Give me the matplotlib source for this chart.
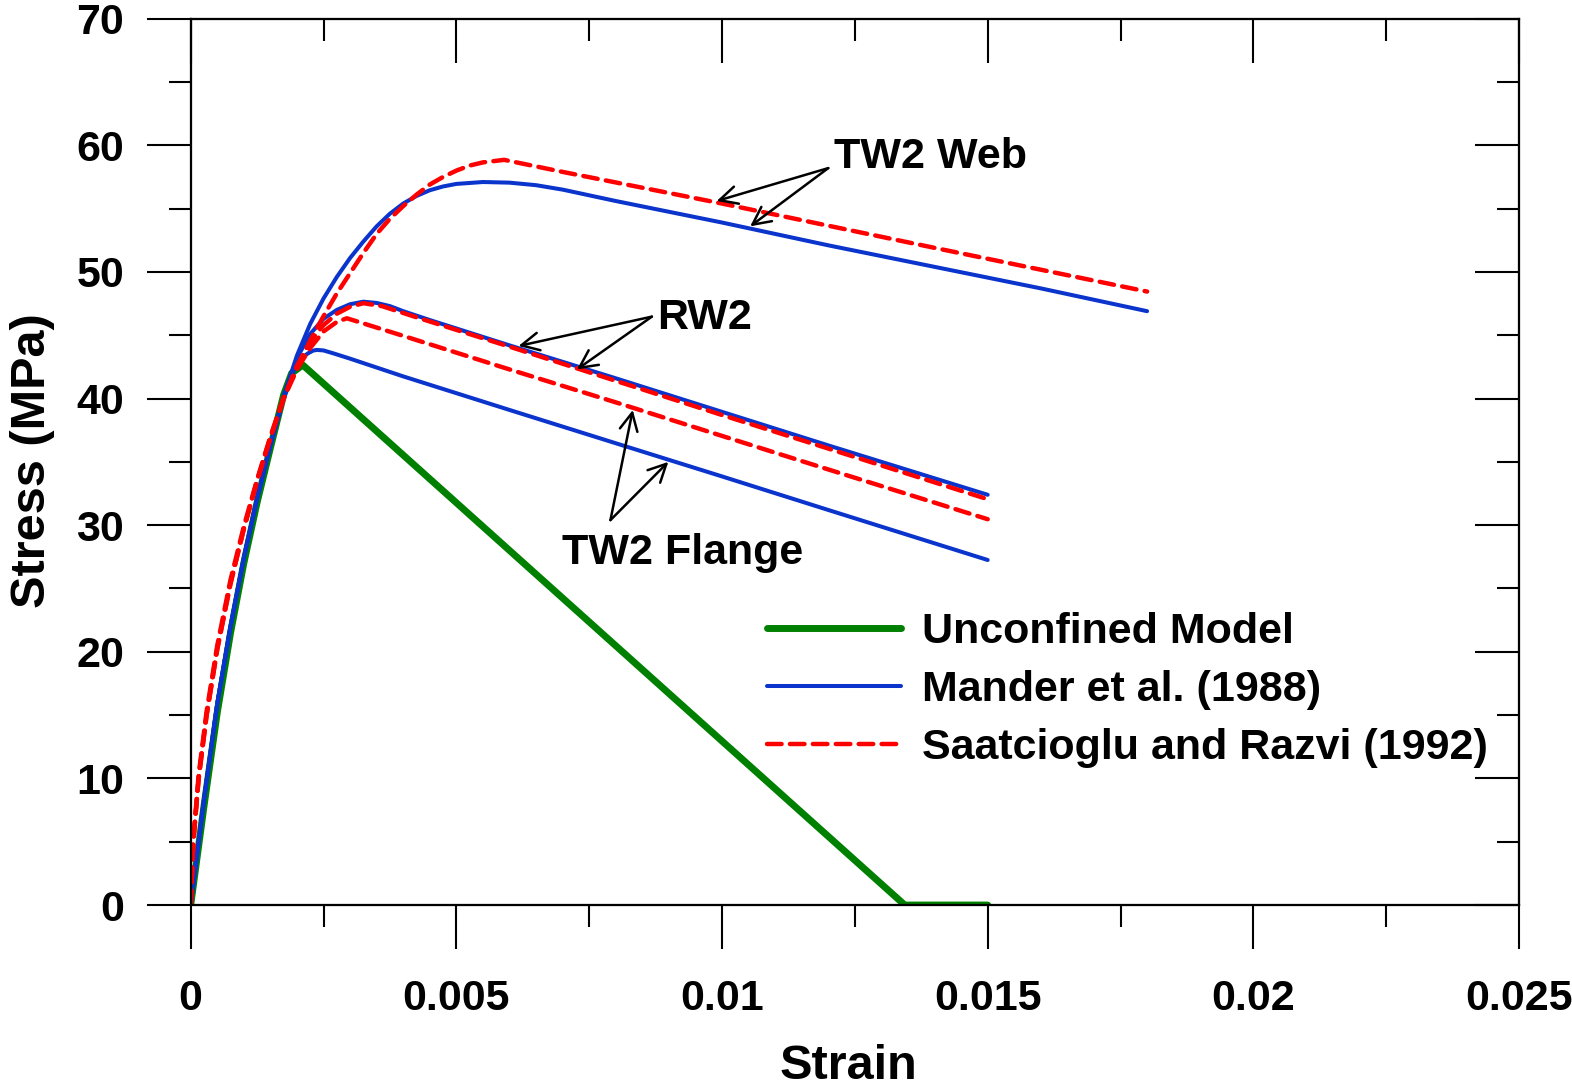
import numpy as np
import matplotlib
matplotlib.use('Agg')
import matplotlib.pyplot as plt

#---------------------------------------------------------------------#
# Stress-strain curves for confined / unconfined concrete models     #
#---------------------------------------------------------------------#

# unconfined model
strainUnconf = [0, 0.00025, 0.0005, 0.00075, 0.001, 0.00125, 0.0015, 0.00175,
                0.0019, 0.00211, 0.01344, 0.015]
stressUnconf = [0, 7.8, 15.2, 21.5, 27.0, 31.8, 36.1, 40.3, 42.0, 42.65, 0, 0]

# Mander et al. (1988)
strainManWeb = [0, 0.00025, 0.0005, 0.00075, 0.001, 0.00125, 0.0015, 0.00175,
                0.002, 0.00225, 0.0025, 0.00275, 0.003, 0.00325, 0.0035,
                0.00375, 0.004, 0.00425, 0.0045, 0.00475, 0.005, 0.0055,
                0.006, 0.0065, 0.007, 0.008, 0.010, 0.012, 0.014, 0.016, 0.018]
stressManWeb = [0, 8.3, 15.9, 22.0, 27.4, 32.1, 36.3, 40.2, 43.4, 45.9, 47.9,
                49.6, 51.1, 52.4, 53.6, 54.6, 55.4, 56.0, 56.45, 56.75, 56.95,
                57.1, 57.05, 56.85, 56.5, 55.6, 53.9, 52.1, 50.4, 48.7, 46.9]

strainManRW2 = [0, 0.00025, 0.0005, 0.00075, 0.001, 0.00125, 0.0015, 0.00175,
                0.002, 0.00225, 0.0025, 0.00275, 0.003, 0.00325, 0.0035,
                0.00375, 0.004, 0.0045, 0.006, 0.008, 0.010, 0.012, 0.015]
stressManRW2 = [0, 8.3, 15.9, 22.0, 27.4, 32.1, 36.3, 40.1, 43.2, 45.1, 46.3,
                47.0, 47.45, 47.65, 47.55, 47.3, 46.9, 46.2, 44.2, 41.6, 38.95,
                36.3, 32.4]

strainManFlg = [0, 0.00025, 0.0005, 0.00075, 0.001, 0.00125, 0.0015, 0.00175,
                0.002, 0.0022, 0.0023, 0.00237, 0.0025, 0.0027, 0.003, 0.004,
                0.006, 0.008, 0.010, 0.012, 0.015]
stressManFlg = [0, 8.3, 15.9, 22.0, 27.4, 32.1, 36.3, 40.0, 42.9, 43.55, 43.78,
                43.84, 43.8, 43.55, 43.15, 41.75, 39.1, 36.47, 33.85, 31.2, 27.25]

# Saatcioglu and Razvi (1992)
strainSaaWeb = [0, 0.00005, 0.00015, 0.0003, 0.0005, 0.00075, 0.001, 0.00125,
                0.0015, 0.00175, 0.002, 0.00225, 0.0025, 0.00275, 0.003,
                0.00325, 0.0035, 0.00375, 0.004, 0.00425, 0.0045, 0.00475,
                0.005, 0.00525, 0.0055, 0.0059, 0.007, 0.010, 0.014, 0.018]
stressSaaWeb = [0, 5.2, 10.3, 15.3, 20.5, 25.7, 29.9, 33.6, 37.0, 40.1, 42.4,
                44.6, 46.5, 48.3, 49.9, 51.5, 53.0, 54.2, 55.2, 56.1, 56.9,
                57.5, 58.0, 58.4, 58.65, 58.85, 57.9, 55.4, 51.9, 48.45]

strainSaaRW2 = [0, 0.00005, 0.00015, 0.0003, 0.0005, 0.00075, 0.001, 0.00125,
                0.0015, 0.00175, 0.002, 0.00225, 0.0025, 0.00275, 0.003,
                0.00325, 0.0036, 0.0043, 0.006, 0.008, 0.010, 0.012, 0.015]
stressSaaRW2 = [0, 5.0, 10.0, 15.0, 20.2, 25.4, 29.7, 33.5, 36.9, 40.0, 42.6,
                44.5, 45.8, 46.7, 47.25, 47.53, 47.3, 46.35, 44.1, 41.4, 38.7,
                36.05, 32.05]

strainSaaFlg = [0, 0.00005, 0.00015, 0.0003, 0.0005, 0.00075, 0.001, 0.00125,
                0.0015, 0.00175, 0.002, 0.00225, 0.0025, 0.00275, 0.00294,
                0.004, 0.006, 0.008, 0.010, 0.012, 0.015]
stressSaaFlg = [0, 5.0, 10.0, 15.0, 20.2, 25.4, 29.7, 33.5, 36.9, 40.0, 42.3,
                44.0, 45.3, 46.05, 46.34, 44.95, 42.3, 39.7, 37.05, 34.4, 30.47]

xTicks = [0, 0.005, 0.01, 0.015, 0.02, 0.025]
xTickLabels = ['0', '0.005', '0.01', '0.015', '0.02', '0.025']
yTicks = [0, 10, 20, 30, 40, 50, 60, 70]
yTickLabels = ['0', '10', '20', '30', '40', '50', '60', '70']

legendLabels = ['Unconfined Model', 'Mander et al. (1988)',
                'Saatcioglu and Razvi (1992)']

plt.rcParams['font.family'] = ['Liberation Sans', 'DejaVu Sans']
plt.rcParams['font.weight'] = 'bold'
plt.rcParams['font.size'] = 31
plt.rcParams['lines.scale_dashes'] = False

GREEN = '#008000'
BLUE = '#0a34cc'
RED = '#ff0000'

fig = plt.figure(figsize=(15.72, 10.92), dpi=100)
ax = fig.add_axes([0.1213, 0.1712, 0.8450, 0.8117])

ax.plot(strainUnconf, stressUnconf, color=GREEN, lw=5, solid_capstyle='round',
        label=legendLabels[0])
ax.plot(strainManWeb, stressManWeb, color=BLUE, lw=2.9, solid_capstyle='round',
        label=legendLabels[1])
ax.plot(strainManRW2, stressManRW2, color=BLUE, lw=2.9, solid_capstyle='round')
ax.plot(strainManFlg, stressManFlg, color=BLUE, lw=2.9, solid_capstyle='round')
redKw = dict(color=RED, lw=3.2, dashes=(10.5, 6.0), dash_capstyle='round')
ax.plot(strainSaaWeb, stressSaaWeb, label=legendLabels[2], **redKw)
ax.plot(strainSaaRW2, stressSaaRW2, **redKw)
ax.plot(strainSaaFlg, stressSaaFlg, **redKw)

ax.set_xlim(0, 0.025)
ax.set_ylim(0, 70)

#-------------------------------------------------------------------#
# ticks: outward on bottom/left, inward on top/right                #
#-------------------------------------------------------------------#
ax.set_xticks(xTicks)
ax.set_xticklabels(xTickLabels)
ax.set_xticks(np.arange(0.0025, 0.025, 0.005), minor=True)
ax.set_yticks(yTicks)
ax.set_yticklabels(yTickLabels)
ax.set_yticks(np.arange(5, 70, 10), minor=True)
ax.tick_params(which='major', direction='out', length=32, width=1.5)
ax.tick_params(which='minor', direction='out', length=16, width=1.5)
ax.tick_params(axis='x', which='major', pad=21)
ax.tick_params(axis='y', which='major', pad=16)
for sp in ax.spines.values():
  sp.set_linewidth(1.5)

axTop = ax.twiny()
axTop.set_xlim(ax.get_xlim())
axTop.set_xticks(xTicks)
axTop.set_xticks(np.arange(0.0025, 0.025, 0.005), minor=True)
axTop.tick_params(which='major', direction='in', length=32, width=1.5, labeltop=False)
axTop.tick_params(which='minor', direction='in', length=16, width=1.5)

axRight = ax.twinx()
axRight.set_ylim(ax.get_ylim())
axRight.set_yticks(yTicks)
axRight.set_yticks(np.arange(5, 70, 10), minor=True)
axRight.tick_params(which='major', direction='in', length=32, width=1.5, labelright=False)
axRight.tick_params(which='minor', direction='in', length=16, width=1.5)
for a in (axTop, axRight):
  for sp in a.spines.values():
    sp.set_linewidth(1.5)

ax.set_xlabel('Strain', fontsize=35, fontweight='bold')
ax.xaxis.set_label_coords(0.4948, -0.157)
ax.set_ylabel('Stress (MPa)', fontsize=35, fontweight='bold')
ax.yaxis.set_label_coords(-0.102, 0.501)

#-------------------------------------------------------------------#
# annotations                                                       #
#-------------------------------------------------------------------#
arrowKw = dict(arrowstyle='->', lw=1.8, color='k', mutation_scale=32,
               shrinkA=0, shrinkB=0)
ax.text(0.0121, 59.1, 'TW2 Web', ha='left', va='center')
ax.annotate('', xy=(0.0099, 55.6), xytext=(0.0120, 58.2), arrowprops=arrowKw)
ax.annotate('', xy=(0.01053, 53.6), xytext=(0.0120, 58.2), arrowprops=arrowKw)

ax.text(0.00878, 46.4, 'RW2', ha='left', va='center')
ax.annotate('', xy=(0.00617, 44.15), xytext=(0.00868, 46.47), arrowprops=arrowKw)
ax.annotate('', xy=(0.00727, 42.3), xytext=(0.00868, 46.47), arrowprops=arrowKw)

ax.text(0.00698, 27.8, 'TW2 Flange', ha='left', va='center')
ax.annotate('', xy=(0.00832, 39.1), xytext=(0.0079, 30.4), arrowprops=arrowKw)
ax.annotate('', xy=(0.00899, 35.0), xytext=(0.0079, 30.4), arrowprops=arrowKw)

ax.legend(loc='upper left', bbox_to_anchor=(0.4339, 0.331), frameon=False,
          borderpad=0, borderaxespad=0, handlelength=3.1, handletextpad=0.5,
          labelspacing=0.42, fontsize=31)

plt.savefig('out.png', dpi=100)
